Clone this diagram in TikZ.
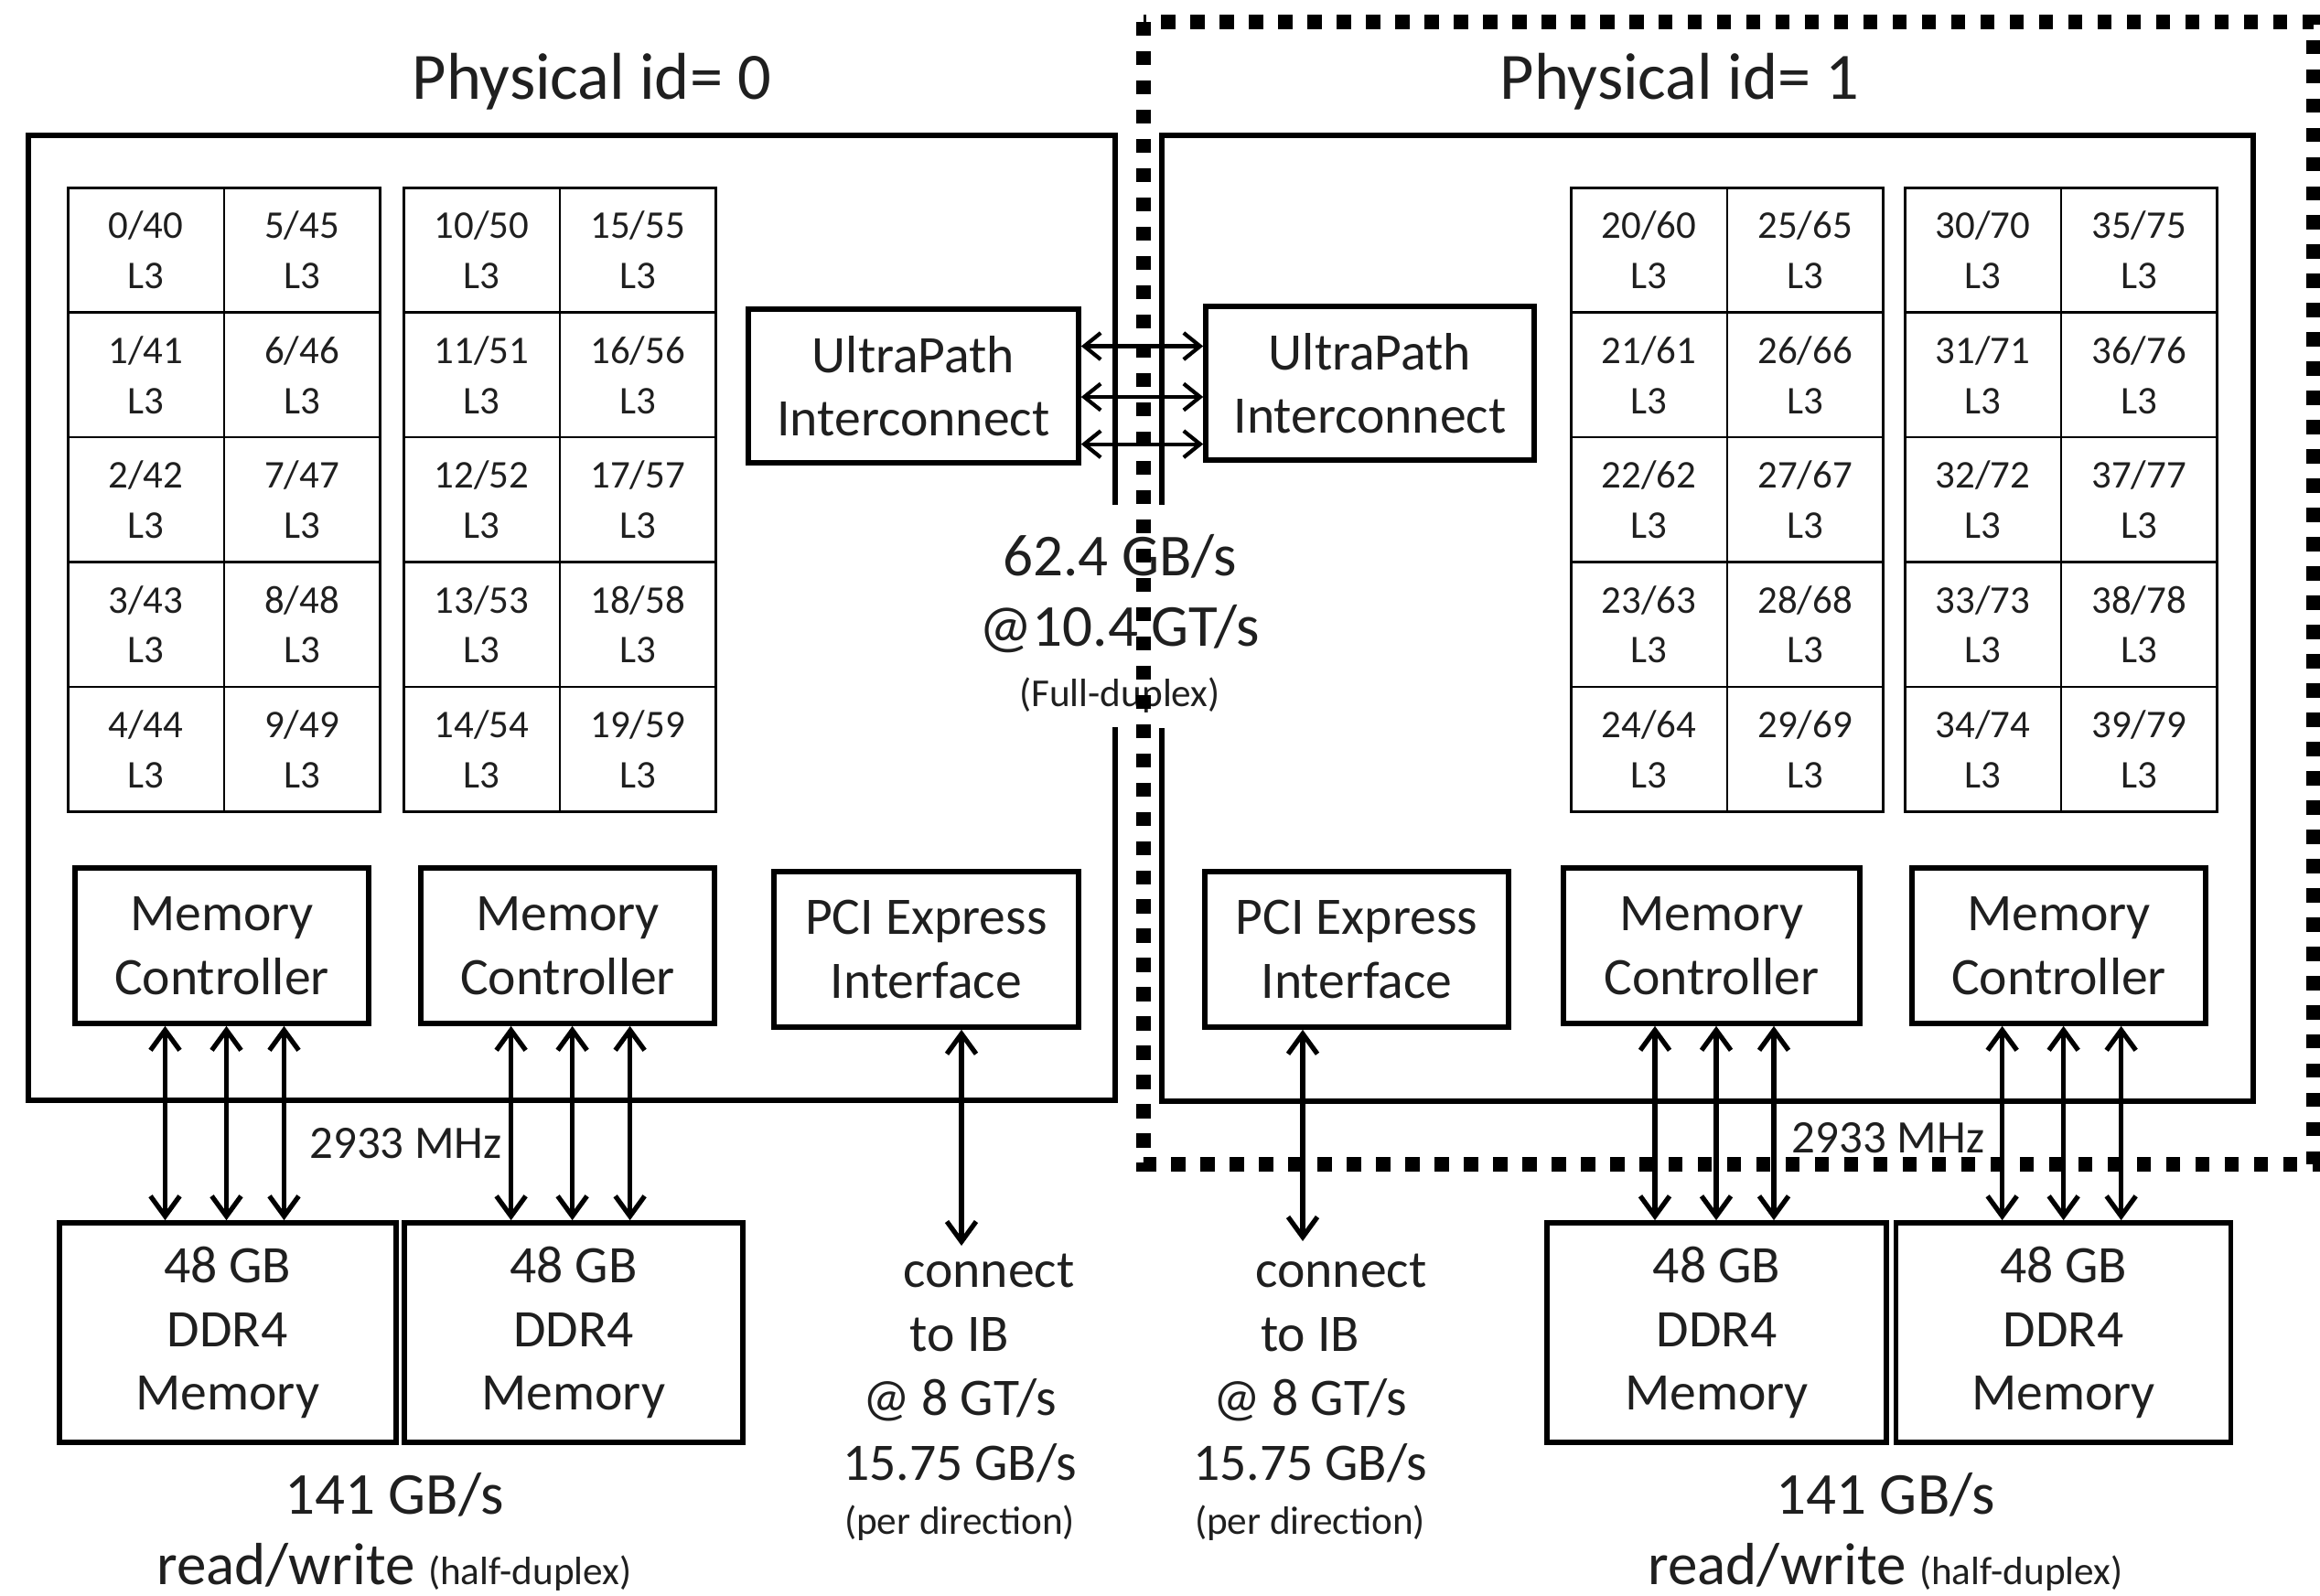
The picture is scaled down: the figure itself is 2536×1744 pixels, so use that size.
\documentclass[tikz,border=0pt]{standalone}
\usepackage{fontspec}
\setmainfont{Carlito}
\usepackage{xcolor}
\usepackage{tikz}
\usetikzlibrary{arrows.meta, calc, positioning}
\definecolor{myink}{rgb}{0.12, 0.12, 0.12}
\tikzstyle{socket} = [line width=1.8pt, line join=miter]
\tikzstyle{core} = [draw, line width=0.75pt, minimum width=17.05mm, minimum height=13.64mm, inner sep=0pt, align=center, text=myink, font=\fontsize{12.2}{15.6}\selectfont]
\tikzstyle{unit} = [draw, line width=1.6pt, inner sep=0pt, align=center, text=myink, font=\fontsize{16.4}{19.8}\selectfont]
\tikzstyle{note} = [inner sep=0pt, align=center, text=myink, font=\fontsize{16.4}{20}\selectfont]
\tikzstyle{bignote} = [inner sep=0pt, align=center, text=myink, font=\fontsize{18.5}{21.8}\selectfont]
\tikzstyle{twoway} = [{Straight Barb[length=2.2mm,width=3.2mm]}-{Straight Barb[length=2.2mm,width=3.2mm]}, line width=1.5pt]
\tikzstyle{upilink} = [{Straight Barb[length=1.8mm,width=2.9mm]}-{Straight Barb[length=1.8mm,width=2.9mm]}, line width=1.2pt]
\tikzstyle{region} = [line width=4.4pt, dash pattern=on 4.4pt off 4.7pt]
\newcommand{\smallpar}[1]{{\fontsize{12.3}{14}\selectfont #1}}

\begin{document}
\begin{tikzpicture}[x=0.1mm, y=-0.1mm]
\useasboundingbox (0,0) rectangle (2536,1744);

% the two sockets
\node[minimum width=118.6mm, minimum height=105.3mm, inner sep=0pt] (sock0) at (625,675.5) {};
\node[minimum width=119.1mm, minimum height=105.4mm, inner sep=0pt] (sock1) at (1866.5,676) {};
\draw[socket] ([yshift=-40.4mm]sock0.north east) -- (sock0.north east) -- (sock0.north west)
  -- (sock0.south west) -- (sock0.south east) -- ([yshift=40.8mm]sock0.south east);
\draw[socket] ([yshift=-40.4mm]sock1.north west) -- (sock1.north west) -- (sock1.north east)
  -- (sock1.south east) -- (sock1.south west) -- ([yshift=40.8mm]sock1.south west);

\node[inner sep=0pt, text=myink, font=\fontsize{20.6}{24}\selectfont] (title0) at (647,89) {Physical id= 0};
\node[inner sep=0pt, text=myink, font=\fontsize{20.6}{24}\selectfont] (title1) at (1836,89) {Physical id= 1};

% cores
\foreach \g/\gx in {0/73, 10/440, 20/1716, 30/2081} {
  \foreach \c in {0,1} {
    \foreach \r in {0,...,4} {
      \pgfmathtruncatemacro{\n}{\g+5*\c+\r}
      \pgfmathtruncatemacro{\m}{\n+40}
      \node[core, anchor=north west] (core\n) at (\gx+170.5*\c, 204+136.4*\r) {\n/\m\\L3};
    }
  }
}

% interconnect
\node[unit, minimum width=36.1mm, minimum height=16.8mm] (upi0) at (998.5,422) {UltraPath\\Interconnect};
\node[unit, minimum width=35.9mm, minimum height=16.8mm] (upi1) at (1497.5,419) {UltraPath\\Interconnect};
\foreach \dy in {4.35, -1.2, -6.36}
  \draw[upilink] ([yshift=\dy mm]upi0.east) -- ([yshift=\dy mm]upi0.east -| upi1.west);
\node[bignote] (upinote) at (1224,682) {62.4 GB/s\\@10.4 GT/s\\[-3pt]\smallpar{(Full-duplex)}};

% controllers
\node[unit, minimum width=32.1mm, minimum height=17mm] (mc0) at (242.5,1034) {Memory\\Controller};
\node[unit, minimum width=32.1mm, minimum height=17mm, right=5.15mm of mc0] (mc1) {Memory\\Controller};
\node[unit, minimum width=33.3mm, minimum height=17mm] (pci0) at (1012.4,1038) {PCI Express\\Interface};
\node[unit, minimum width=33.2mm, minimum height=17mm] (pci1) at (1483,1038) {PCI Express\\Interface};
\node[unit, minimum width=32.4mm, minimum height=17mm] (mc2) at (1871,1034) {Memory\\Controller};
\node[unit, minimum width=32.1mm, minimum height=17mm, right=5.15mm of mc2] (mc3) {Memory\\Controller};

% memory
\node[unit, minimum width=36.8mm, minimum height=24mm] (mem0) at (248.7,1457) {48 GB\\DDR4\\Memory};
\node[unit, minimum width=37mm, minimum height=24mm, right=0.35mm of mem0] (mem1) {48 GB\\DDR4\\Memory};
\node[unit, minimum width=37.1mm, minimum height=24mm] (mem2) at (1876.5,1457) {48 GB\\DDR4\\Memory};
\node[unit, minimum width=36.6mm, minimum height=24mm, right=0.5mm of mem2] (mem3) {48 GB\\DDR4\\Memory};

\foreach \mc/\mem in {mc0/mem0, mc1/mem1, mc2/mem2, mc3/mem3}
  \foreach \dx in {-6.2, 0.5, 6.8}
    \draw[twoway] ([xshift=\dx mm]\mc.south) -- ([xshift=\dx mm]\mc.south |- \mem.north);

\node[inner sep=0pt, text=myink, font=\fontsize{14.5}{17}\selectfont] (mhz0) at (443.6,1250) {2933 MHz};
\node[inner sep=0pt, text=myink, font=\fontsize{14.5}{17}\selectfont] (mhz1) at (2064,1244) {2933 MHz};

\node[bignote] (bw0) at (431,1675) {141 GB/s\\read/write \smallpar{(half-duplex)}};
\node[bignote] (bw1) at (2061,1675) {141 GB/s\\read/write \smallpar{(half-duplex)}};

% pci express links
\coordinate (ib0) at (1051,1362);
\coordinate (ib1) at (1424,1357);
\draw[twoway] (pci0.south -| ib0) -- (ib0);
\draw[twoway] (pci1.south -| ib1) -- (ib1);
\node[note, anchor=north] (ibtxt0) at (1049,1370) {\hspace*{6.4mm}connect\\to IB\\@ 8 GT/s\\15.75 GB/s\\[-3pt]\smallpar{(per direction)}};
\node[note, anchor=north] (ibtxt1) at (1432,1370) {\hspace*{6.8mm}connect\\to IB\\@ 8 GT/s\\15.75 GB/s\\[-3pt]\smallpar{(per direction)}};

% node 1 frame
\draw[region] (1250,24) rectangle (2529,1273);
\end{tikzpicture}
\end{document}
